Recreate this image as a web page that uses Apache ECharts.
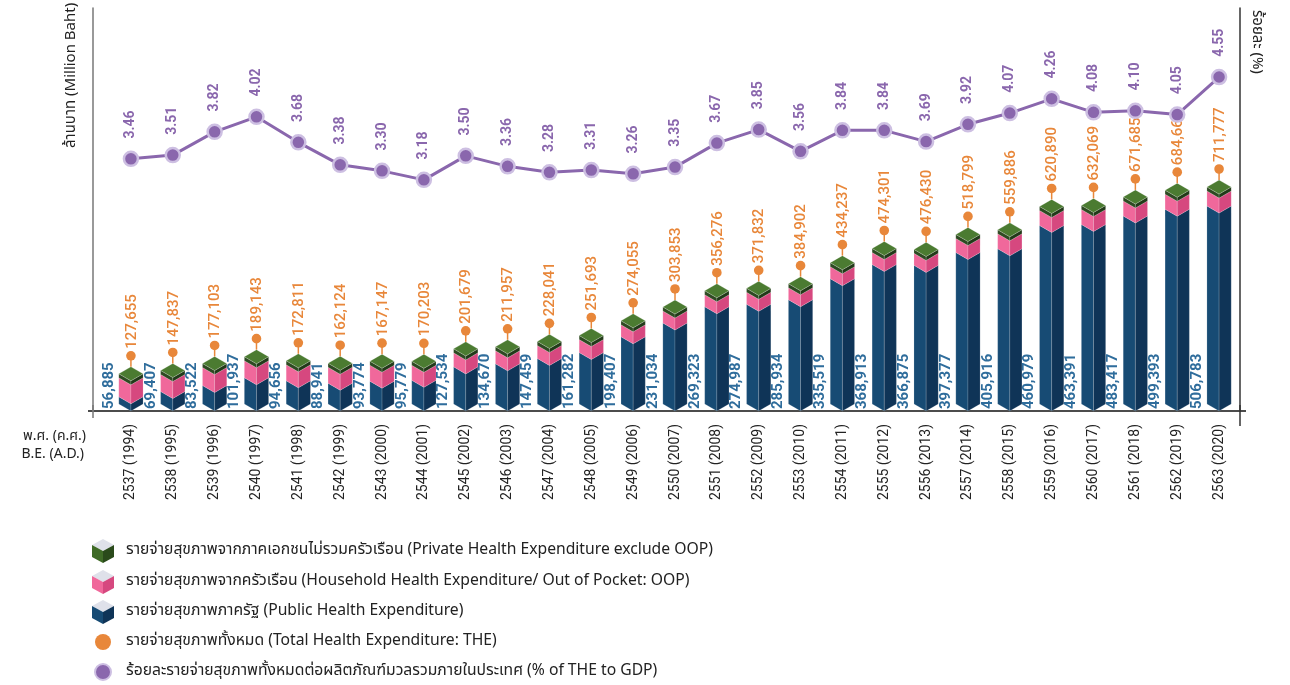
<!DOCTYPE html>
<html><head><meta charset="utf-8">
<script src="https://cdn.jsdelivr.net/npm/echarts@6/dist/echarts.min.js"></script>
<style>html,body{margin:0;padding:0;background:#fff}#c{width:1290px;height:685px}</style>
</head><body><div id="c"></div>
<script>
const years = ['2537 (1994)','2538 (1995)','2539 (1996)','2540 (1997)','2541 (1998)','2542 (1999)','2543 (2000)','2544 (2001)','2545 (2002)','2546 (2003)','2547 (2004)','2548 (2005)','2549 (2006)','2550 (2007)','2551 (2008)','2552 (2009)','2553 (2010)','2554 (2011)','2555 (2012)','2556 (2013)','2557 (2014)','2558 (2015)','2559 (2016)','2560 (2017)','2561 (2018)','2562 (2019)','2563 (2020)'];
const publicExp = [56885,69407,83522,101937,94656,88941,93774,95779,127534,134670,147459,161282,198407,231034,269323,274987,285934,335519,368913,366875,397377,405916,460979,463391,483417,499393,506783];
const oopExp = [44800,40100,42500,40100,37700,37700,37700,35400,33000,30700,30700,30700,28300,28300,28300,28300,28300,28300,28300,28300,33000,35400,35400,35400,35400,35400,35400];
const privateExp = [9400,9400,9400,9400,9400,9400,9400,9400,9400,9400,9400,9400,9400,9400,9400,9400,9400,9400,9400,9400,9400,9400,9400,9400,9400,9400,9400];
const totalTHE = [127655,147837,177103,189143,172811,162124,167147,170203,201679,211957,228041,251693,274055,303853,356276,371832,384902,434237,474301,476430,518799,559886,620890,632069,671685,684669,711777];
const theGdp = [3.46,3.51,3.82,4.02,3.68,3.38,3.30,3.18,3.50,3.36,3.28,3.31,3.26,3.35,3.67,3.85,3.56,3.84,3.84,3.69,3.92,4.07,4.26,4.08,4.10,4.05,4.55];

const Y_MIN = 40000, Y_MAX = 990500;
const NUM = 'Roboto, "DejaVu Sans", sans-serif';
const THAI = '"Noto Sans Thai","Noto Sans Thai UI","Loma","Garuda","Tlwg Typo","Noto Sans",Roboto,sans-serif';
const fmt = v => v.toLocaleString('en-US');

const barData = years.map((y, i) => [i, publicExp[i], oopExp[i], privateExp[i]]);
const theData = years.map((y, i) => [i, publicExp[i] + oopExp[i] + privateExp[i], totalTHE[i]]);

function box(c, yb, yt, w, dy, cl, cr, top) {
  const out = [
    {type:'polygon', shape:{points:[[c-w,yb-dy],[c,yb],[c,yt],[c-w,yt-dy]]}, style:{fill:cl, stroke:'rgba(255,255,255,0.25)', lineWidth:0.6}},
    {type:'polygon', shape:{points:[[c,yb],[c+w,yb-dy],[c+w,yt-dy],[c,yt]]}, style:{fill:cr, stroke:'rgba(255,255,255,0.25)', lineWidth:0.6}}
  ];
  if (top) out.push({type:'polygon', shape:{points:[[c,yt],[c-w,yt-dy],[c,yt-2*dy],[c+w,yt-dy]]}, style:{fill:top, stroke:'rgba(255,255,255,0.35)', lineWidth:0.6}});
  return out;
}

function renderBar(params, api) {
  const i = api.value(0), b = api.value(1), p = api.value(2), g = api.value(3);
  const base = api.coord([i, Y_MIN]);
  const c = base[0], y0 = base[1];
  const y1 = api.coord([i, b])[1];
  const y2 = api.coord([i, b + p])[1];
  const y3 = api.coord([i, b + p + g])[1];
  const w = api.size([1, 0])[0] * 0.29;
  const dy = w * 0.58;
  const children = [].concat(
    box(c, y0, y1, w, dy, '#174b74', '#0f3457', null),
    box(c, y1, y2, w, dy, '#f0689b', '#d6487f', null),
    box(c, y2, y3, w, dy, '#2e4a22', '#223a19', '#4b7b31')
  );
  children.push({type:'text', x: c - 22, y: y0 - 2, rotation: Math.PI / 2,
    style:{text: fmt(b), fill:'#2f6d9c', font:'bold 15px ' + NUM, align:'left', verticalAlign:'middle'}});
  return {type:'group', children};
}

function renderThe(params, api) {
  const i = api.value(0);
  const pt = api.coord([i, api.value(1)]);
  const w = api.size([1, 0])[0] * 0.29;
  const dy = w * 0.58;
  const c = pt[0];
  const topV = pt[1] - 2 * dy;
  const dotY = topV - 11;
  return {type:'group', children:[
    {type:'line', shape:{x1:c, y1:dotY, x2:c, y2:topV}, style:{stroke:'#e8873a', lineWidth:1.5}},
    {type:'circle', shape:{cx:c, cy:dotY, r:4.8}, style:{fill:'#e8873a'}},
    {type:'text', x: c + 1, y: dotY - 7, rotation: Math.PI / 2,
      style:{text: fmt(api.value(2)), fill:'#e8873a', font:'500 15px ' + NUM, align:'left', verticalAlign:'middle'}}
  ]};
}

function cubeIcon(cx, cy, cl, cr) {
  return [
    {type:'polygon', shape:{points:[[cx,cy-12],[cx+11,cy-6],[cx,cy],[cx-11,cy-6]]}, style:{fill:'#dfe1ea'}},
    {type:'polygon', shape:{points:[[cx-11,cy-6],[cx,cy],[cx,cy+12],[cx-11,cy+6]]}, style:{fill:cl}},
    {type:'polygon', shape:{points:[[cx,cy],[cx+11,cy-6],[cx+11,cy+6],[cx,cy+12]]}, style:{fill:cr}}
  ];
}
const legendTexts = [
  'รายจ่ายสุขภาพจากภาคเอกชนไม่รวมครัวเรือน (Private Health Expenditure exclude OOP)',
  'รายจ่ายสุขภาพจากครัวเรือน (Household Health Expenditure/ Out of Pocket: OOP)',
  'รายจ่ายสุขภาพภาครัฐ (Public Health Expenditure)',
  'รายจ่ายสุขภาพทั้งหมด (Total Health Expenditure: THE)',
  'ร้อยละรายจ่ายสุขภาพทั้งหมดต่อผลิตภัณฑ์มวลรวมภายในประเทศ (% of THE to GDP)'
];
const legendY = [551, 582, 612, 642, 672];
const graphics = [];
graphics.push(...cubeIcon(103, legendY[0], '#3f6b27', '#2a4a1b'));
graphics.push(...cubeIcon(103, legendY[1], '#f0689b', '#d6487f'));
graphics.push(...cubeIcon(103, legendY[2], '#174b74', '#0f3457'));
graphics.push({type:'circle', shape:{cx:103, cy:legendY[3], r:8}, style:{fill:'#e8873a'}});
graphics.push({type:'circle', shape:{cx:103, cy:legendY[4], r:8}, style:{fill:'#8a67ad', stroke:'#cdbfe2', lineWidth:2}});
legendTexts.forEach((t, k) => graphics.push({type:'text', x:126, y:legendY[k],
  style:{text:t, fill:'#222', font:'15.7px ' + THAI, align:'left', verticalAlign:'middle'}}));
graphics.push({type:'text', x:72, y:148, rotation:Math.PI/2, style:{text:'ล้านบาท (Million Baht)', fill:'#222', font:'15px ' + THAI, align:'left', verticalAlign:'middle'}});
graphics.push({type:'text', x:1256, y:10, rotation:-Math.PI/2, style:{text:'ร้อยละ (%)', fill:'#222', font:'15px ' + THAI, align:'left', verticalAlign:'middle'}});
graphics.push({type:'text', x:86, y:437, style:{text:'พ.ศ. (ค.ศ.)', fill:'#222', font:'14px ' + THAI, align:'right', verticalAlign:'middle'}});
graphics.push({type:'text', x:84, y:455, style:{text:'B.E. (A.D.)', fill:'#222', font:'14px ' + THAI, align:'right', verticalAlign:'middle'}});
graphics.push({type:'line', shape:{x1:88, y1:411, x2:1246, y2:411}, style:{stroke:'#111', lineWidth:1.5}});
graphics.push({type:'line', shape:{x1:93, y1:405, x2:93, y2:418}, style:{stroke:'#777', lineWidth:1.5}});
graphics.push({type:'line', shape:{x1:1240, y1:405, x2:1240, y2:426}, style:{stroke:'#333', lineWidth:1.5}});

const chart = echarts.init(document.getElementById('c'), null, {renderer:'canvas'});
chart.setOption({
  animation:false,
  backgroundColor:'#fff',
  grid:{left:110, right:50, top:8, bottom:274, containLabel:false},
  xAxis:{type:'category', data:years, boundaryGap:true,
    axisLine:{show:false}, axisTick:{show:false},
    axisLabel:{rotate:90, margin:13, fontSize:14, color:'#222', fontFamily:NUM, interval:0}},
  yAxis:[
    {type:'value', min:Y_MIN, max:Y_MAX, offset:17, splitLine:{show:false}, axisLabel:{show:false}, axisTick:{show:false},
      axisLine:{show:true, lineStyle:{color:'#777', width:1.5}}},
    {type:'value', min:0.1, max:5.47, position:'right', splitLine:{show:false}, axisLabel:{show:false}, axisTick:{show:false},
      axisLine:{show:true, lineStyle:{color:'#333', width:1.5}}}
  ],
  series:[
    {type:'custom', name:'bars', renderItem:renderBar, data:barData, encode:{x:0, y:[1,2,3]}, yAxisIndex:0, z:2},
    {type:'custom', name:'THE', renderItem:renderThe, data:theData, encode:{x:0, y:1}, yAxisIndex:0, z:3},
    {type:'line', name:'% of THE to GDP', data:theGdp, yAxisIndex:1, z:4,
      symbol:'circle', symbolSize:14,
      lineStyle:{color:'#8a67ad', width:3},
      itemStyle:{color:'#8a67ad', borderColor:'#cdbfe2', borderWidth:2.5},
      label:{show:true, position:'top', distance:12, rotate:90, align:'left', verticalAlign:'middle',
        color:'#8a67ad', fontSize:14, fontWeight:'bold', fontFamily:NUM, formatter:p => p.value.toFixed(2)}}
  ],
  graphic:graphics
});
</script></body></html>
